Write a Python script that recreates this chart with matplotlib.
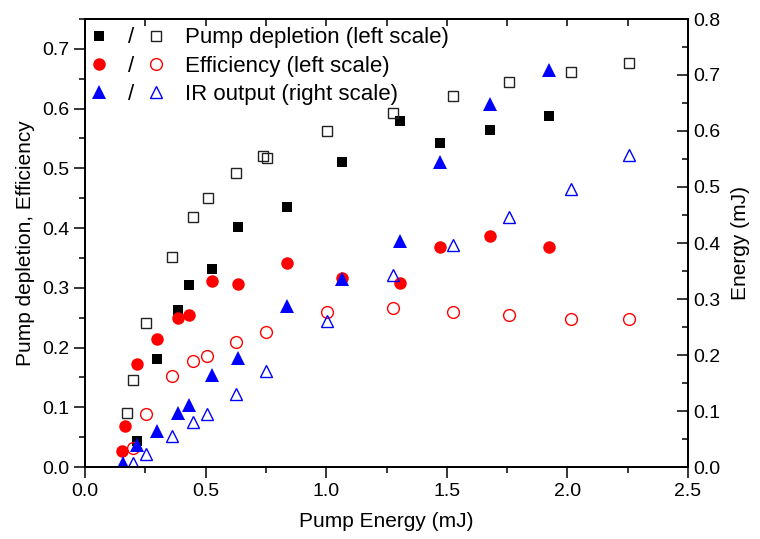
import matplotlib
matplotlib.use("Agg")
import matplotlib.pyplot as plt
import numpy as np
from matplotlib.ticker import MultipleLocator

plt.rcParams['font.family'] = ['Liberation Sans', 'DejaVu Sans']

# data: filled = measured at lower series, open = second series
# pump depletion (left scale)
pd_fill_x = [0.214, 0.297, 0.386, 0.432, 0.527, 0.636, 0.836, 1.067, 1.307, 1.470, 1.678, 1.924]
pd_fill_y = [0.044, 0.181, 0.262, 0.304, 0.332, 0.401, 0.435, 0.511, 0.580, 0.543, 0.564, 0.588]
pd_open_x = [0.173, 0.197, 0.251, 0.359, 0.448, 0.512, 0.625, 0.738, 0.754, 1.003, 1.277, 1.525, 1.756, 2.014, 2.254]
pd_open_y = [0.090, 0.146, 0.241, 0.352, 0.419, 0.450, 0.492, 0.521, 0.517, 0.563, 0.592, 0.621, 0.644, 0.662, 0.677]

# efficiency (left scale)
ef_fill_x = [0.152, 0.166, 0.214, 0.297, 0.386, 0.432, 0.527, 0.636, 0.836, 1.067, 1.307, 1.470, 1.678, 1.924]
ef_fill_y = [0.027, 0.069, 0.172, 0.214, 0.249, 0.254, 0.312, 0.306, 0.342, 0.316, 0.308, 0.369, 0.386, 0.368]
ef_open_x = [0.197, 0.251, 0.359, 0.449, 0.507, 0.624, 0.752, 1.005, 1.277, 1.525, 1.756, 2.014, 2.254]
ef_open_y = [0.032, 0.089, 0.153, 0.178, 0.186, 0.209, 0.226, 0.260, 0.267, 0.259, 0.254, 0.247, 0.247]

# IR output (right scale, mJ)
ir_fill_x = [0.159, 0.214, 0.297, 0.386, 0.432, 0.527, 0.636, 0.836, 1.067, 1.307, 1.470, 1.678, 1.924]
ir_fill_y = [0.008, 0.039, 0.064, 0.096, 0.111, 0.165, 0.195, 0.288, 0.336, 0.404, 0.545, 0.648, 0.709]
ir_open_x = [0.199, 0.251, 0.359, 0.449, 0.507, 0.624, 0.752, 1.005, 1.277, 1.525, 1.756, 2.014, 2.254]
ir_open_y = [0.007, 0.024, 0.055, 0.080, 0.095, 0.131, 0.171, 0.260, 0.342, 0.397, 0.447, 0.497, 0.557]

labels = ['Pump depletion (left scale)', 'Efficiency (left scale)', 'IR output (right scale)']

fig = plt.figure(figsize=(7.6, 5.39), dpi=100)
ax = fig.add_axes([85/760, 72/539, 603/760, 448/539])
ax2 = ax.twinx()

s1, = ax.plot(pd_fill_x, pd_fill_y, 's', color='k', ms=7.5, mew=0, ls='none')
s2, = ax.plot(pd_open_x, pd_open_y, 's', mfc='none', mec='#222222', ms=7, mew=1.0, ls='none')
c1, = ax.plot(ef_fill_x, ef_fill_y, 'o', color='#ff0000', ms=9, mew=0, ls='none')
c2, = ax.plot(ef_open_x, ef_open_y, 'o', mfc='none', mec='#ff0000', ms=8.5, mew=1.0, ls='none')
t1, = ax2.plot(ir_fill_x, ir_fill_y, '^', color='#0000ff', ms=9.5, mew=0, ls='none')
t2, = ax2.plot(ir_open_x, ir_open_y, '^', mfc='none', mec='#0000ff', ms=9, mew=1.0, ls='none')

ax.set_xlim(0, 2.5)
ax.set_ylim(0, 0.75)
ax2.set_ylim(0, 0.8)

ax.xaxis.set_major_locator(MultipleLocator(0.5))
ax.xaxis.set_minor_locator(MultipleLocator(0.25))
ax.yaxis.set_major_locator(MultipleLocator(0.1))
ax.yaxis.set_minor_locator(MultipleLocator(0.05))
ax2.yaxis.set_major_locator(MultipleLocator(0.1))
ax2.yaxis.set_minor_locator(MultipleLocator(0.05))
ax.xaxis.set_major_formatter('{x:.1f}')
ax.yaxis.set_major_formatter('{x:.1f}')
ax2.yaxis.set_major_formatter('{x:.1f}')

ax.tick_params(axis='both', which='major', direction='out', length=8, width=1.1, labelsize=14)
ax.tick_params(axis='both', which='minor', direction='out', length=4, width=1.1)
ax2.tick_params(axis='y', which='major', direction='in', length=8, width=1.1, labelsize=14)
ax2.tick_params(axis='y', which='minor', direction='in', length=4, width=1.1)

top = ax.secondary_xaxis('top')
top.set_xticks(np.arange(0, 2.51, 0.25))
top.tick_params(direction='in', length=5, width=1.1, labeltop=False)

for a in (ax, ax2):
    for sp in a.spines.values():
        sp.set_linewidth(1.3)
top.spines['top'].set_linewidth(1.3)

ax.set_xlabel('Pump Energy (mJ)', fontsize=15, labelpad=9)
ax.set_ylabel('Pump depletion, Efficiency', fontsize=15, labelpad=5)
ax2.set_ylabel('Energy (mJ)', fontsize=15, labelpad=8)

ax2.legend([s1, c1, t1, s2, c2, t2], ['/', '/', '/'] + labels,
           ncol=2, loc='upper left', bbox_to_anchor=(0.0, 0.987),
           frameon=False, fontsize=16, numpoints=1,
           handlelength=1.0, handletextpad=0.8, columnspacing=0.5,
           labelspacing=0.33, borderaxespad=0.0, borderpad=0.12)

fig.savefig('out.png', dpi=100)
